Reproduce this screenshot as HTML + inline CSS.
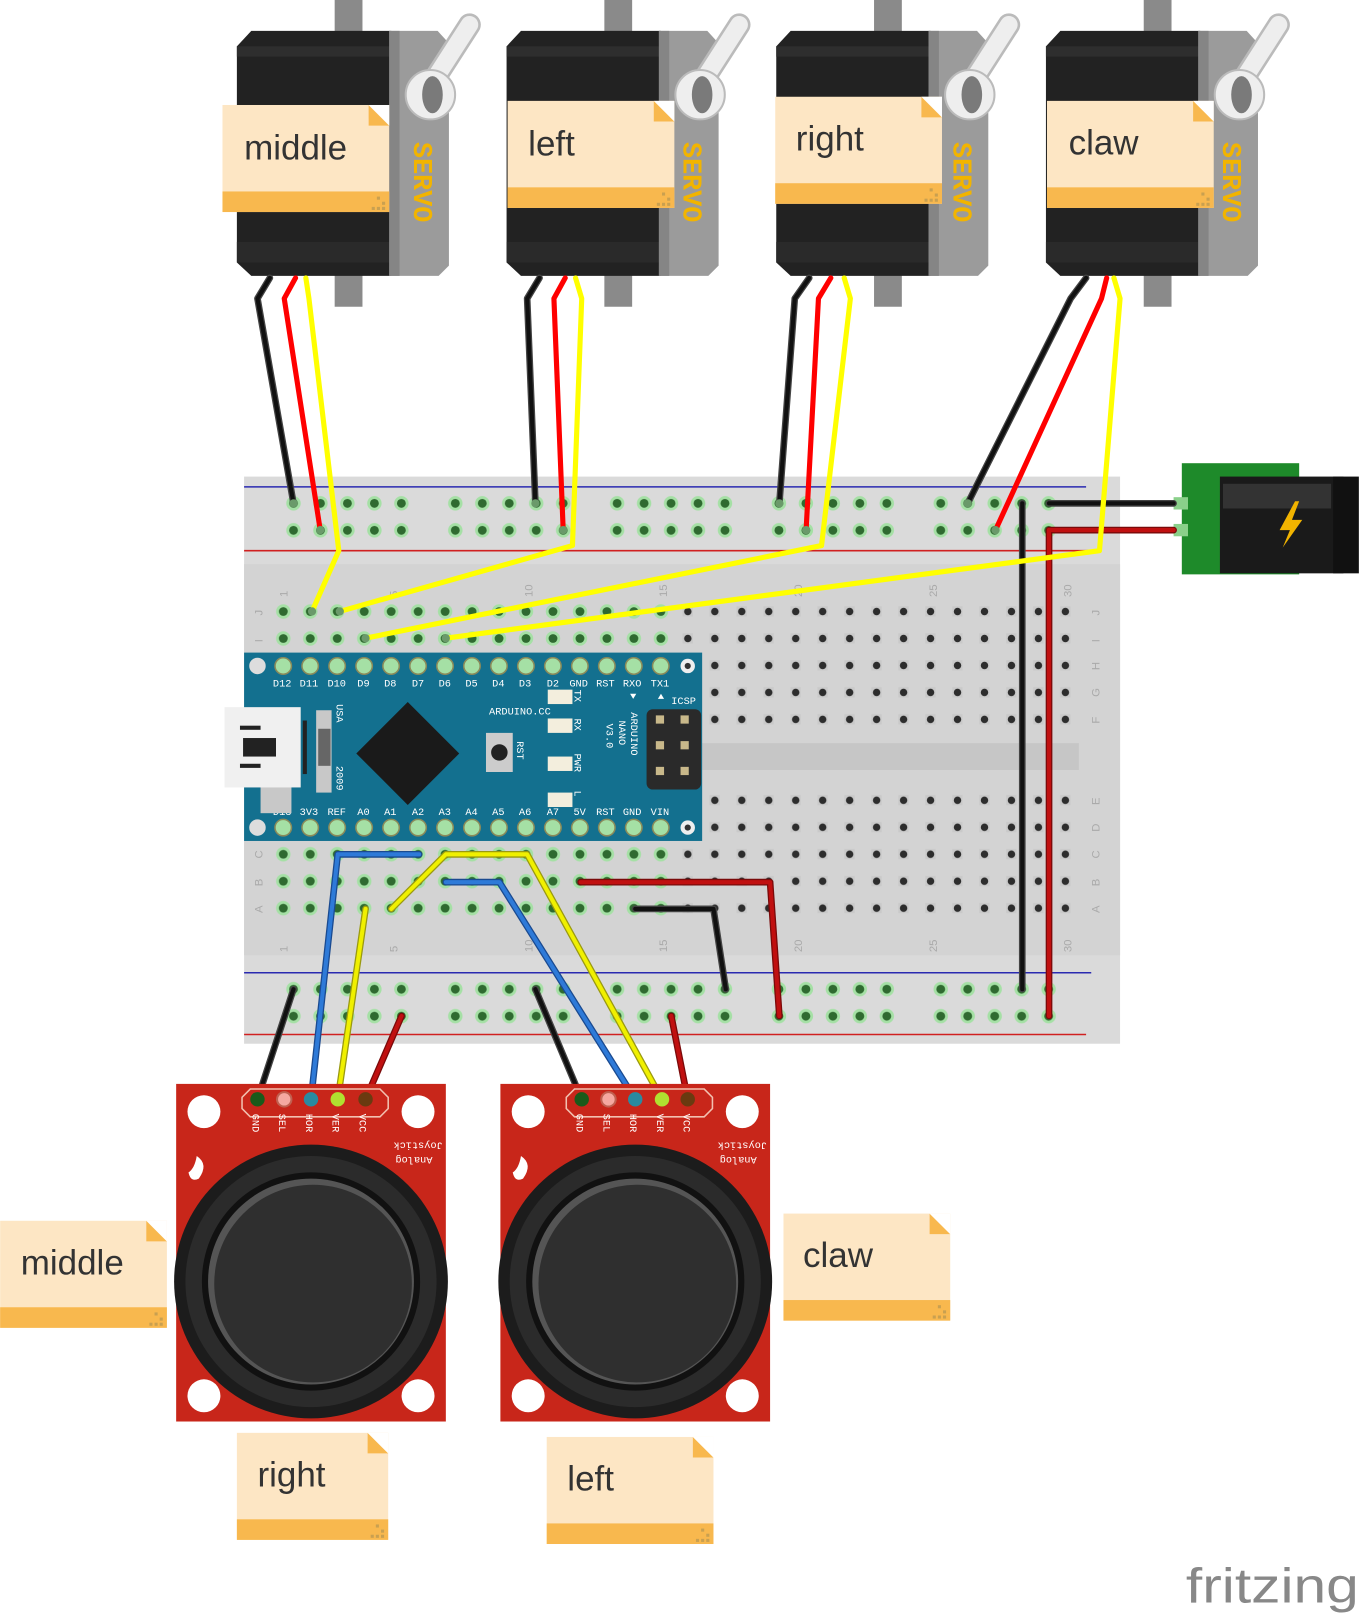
<!DOCTYPE html>
<html><head><meta charset="utf-8"><style>
html,body{margin:0;padding:0;background:#fff;}
svg{display:block;}
.lbl{font-family:"Liberation Sans",sans-serif;font-size:34px;fill:#333;}
.pin{font-family:"Liberation Mono",monospace;font-size:10px;fill:#fff;}
.sv{font-family:"Liberation Mono",monospace;font-size:26px;font-weight:bold;fill:#f2b400;}
.bbl{font-family:"Liberation Sans",sans-serif;font-size:11px;fill:#aaa;}
</style></head><body>
<svg width="1359" height="1614" viewBox="0 0 1320 1568" xmlns="http://www.w3.org/2000/svg">
<defs>
<pattern id="hole" x="262" y="581" width="26.2" height="26.2" patternUnits="userSpaceOnUse">
<rect x="8" y="8" width="10" height="10" fill="#c9c9c9"/><circle cx="13.1" cy="13.1" r="3.6" fill="#2d2d2d"/></pattern>
<pattern id="ghole" x="262" y="581" width="26.2" height="26.2" patternUnits="userSpaceOnUse">
<circle cx="13.1" cy="13.1" r="7" fill="#a5e0a5"/><circle cx="13.1" cy="13.1" r="4.3" fill="#2f6a30"/></pattern>
<pattern id="rail" x="272" y="476" width="157.2" height="26.2" patternUnits="userSpaceOnUse">
<g fill="#a5e0a5"><circle cx="13" cy="13" r="7"/><circle cx="39.2" cy="13" r="7"/><circle cx="65.4" cy="13" r="7"/><circle cx="91.6" cy="13" r="7"/><circle cx="117.8" cy="13" r="7"/></g>
<g fill="#2f6a30"><circle cx="13" cy="13" r="4.3"/><circle cx="39.2" cy="13" r="4.3"/><circle cx="65.4" cy="13" r="4.3"/><circle cx="91.6" cy="13" r="4.3"/><circle cx="117.8" cy="13" r="4.3"/></g></pattern>
<pattern id="rail2" x="272" y="948" width="157.2" height="26.2" patternUnits="userSpaceOnUse">
<g fill="#a5e0a5"><circle cx="13" cy="13" r="7"/><circle cx="39.2" cy="13" r="7"/><circle cx="65.4" cy="13" r="7"/><circle cx="91.6" cy="13" r="7"/><circle cx="117.8" cy="13" r="7"/></g>
<g fill="#2f6a30"><circle cx="13" cy="13" r="4.3"/><circle cx="39.2" cy="13" r="4.3"/><circle cx="65.4" cy="13" r="4.3"/><circle cx="91.6" cy="13" r="4.3"/><circle cx="117.8" cy="13" r="4.3"/></g></pattern>
<g id="servo">
<rect x="95" y="0" width="27" height="40" fill="#8a8a8a"/>
<rect x="95" y="250" width="27" height="48" fill="#8a8a8a"/>
<path d="M0,45 L14,30 L150,30 L150,268 L14,268 L0,255 Z" fill="#222"/>
<rect x="0" y="45" width="150" height="10" fill="#2e2e2e"/>
<rect x="0" y="235" width="150" height="20" fill="#2a2a2a"/>
<path d="M148,30 L195,30 L206,42 L206,258 L196,268 L148,268 Z" fill="#9b9b9b"/>
<rect x="148" y="30" width="10" height="238" fill="#858585"/>
<line x1="190" y1="80" x2="226" y2="24" stroke="#bbb" stroke-width="22" stroke-linecap="round"/>
<line x1="190" y1="80" x2="226" y2="24" stroke="#eee" stroke-width="17" stroke-linecap="round"/>
<circle cx="188" cy="92" r="24" fill="#eee" stroke="#bbb" stroke-width="2"/>
<ellipse cx="190" cy="92" rx="10" ry="18" fill="#7a7a7a"/>
</g>
<g id="note">
<rect x="0" y="0" width="162" height="104" fill="#fde6c4"/>
<rect x="0" y="84" width="162" height="20" fill="#f8b84e"/>
<path d="M142,0 L162,20 L142,20 Z" fill="#f8b84e"/>
<path d="M142,0 L162,0 L162,20 Z" fill="#fff"/>
<g fill="#c9a050"><rect x="150" y="89" width="3" height="3"/><rect x="155" y="94" width="3" height="3"/><rect x="150" y="99" width="3" height="3"/><rect x="145" y="99" width="3" height="3"/><rect x="155" y="99" width="3" height="3"/></g>
</g>
<g id="note2">
<rect x="0" y="0" width="147" height="104" fill="#fde6c4"/>
<rect x="0" y="84" width="147" height="20" fill="#f8b84e"/>
<path d="M127,0 L147,20 L127,20 Z" fill="#f8b84e"/>
<path d="M127,0 L147,0 L147,20 Z" fill="#fff"/>
<g fill="#c9a050"><rect x="135" y="89" width="3" height="3"/><rect x="140" y="94" width="3" height="3"/><rect x="135" y="99" width="3" height="3"/><rect x="130" y="99" width="3" height="3"/><rect x="140" y="99" width="3" height="3"/></g>
</g>
<g id="joy">
<rect x="0" y="0" width="262" height="328" fill="#c8261a"/>
<circle cx="27" cy="27" r="16" fill="#fff"/><circle cx="235" cy="27" r="16" fill="#fff"/>
<circle cx="27" cy="303" r="16" fill="#fff"/><circle cx="235" cy="303" r="16" fill="#fff"/>
<path d="M72,5 L198,5 L206,13 L206,24 L198,32 L72,32 L64,24 L64,13 Z" fill="none" stroke="#f2c0b0" stroke-width="1.5"/>
<circle cx="131" cy="192" r="133" fill="#1c1c1c"/>
<circle cx="131" cy="192" r="122" fill="#2b2b2b"/>
<circle cx="131" cy="192" r="106" fill="#111"/>
<circle cx="131" cy="192" r="100" fill="#555"/>
<circle cx="133" cy="194" r="96" fill="#2f2f2f"/>
<path d="M20,70 q12,8 2,22 q-8,4 -10,-6 q6,-4 8,-16z" fill="#fff"/>
</g>
</defs>

<use href="#servo" x="230"/><use href="#servo" x="492"/><use href="#servo" x="754"/><use href="#servo" x="1016"/>
<text class="sv" transform="translate(402,138) rotate(90)">SERVO</text>
<text class="sv" transform="translate(664,138) rotate(90)">SERVO</text>
<text class="sv" transform="translate(926,138) rotate(90)">SERVO</text>
<text class="sv" transform="translate(1188,138) rotate(90)">SERVO</text>

<rect x="237" y="463" width="851" height="551" fill="#dadada"/>
<rect x="237" y="548" width="851" height="380" fill="#d3d3d3"/>
<line x1="237" y1="473" x2="1055" y2="473" stroke="#2a2ab0" stroke-width="1.5"/>
<line x1="237" y1="535" x2="1070" y2="535" stroke="#d02020" stroke-width="1.5"/>
<line x1="237" y1="945" x2="1060" y2="945" stroke="#2a2ab0" stroke-width="1.5"/>
<line x1="237" y1="1005" x2="1055" y2="1005" stroke="#d02020" stroke-width="1.5"/>
<rect x="272" y="476" width="760" height="52" fill="url(#rail)"/>
<rect x="272" y="948" width="760" height="52" fill="url(#rail2)"/>
<rect x="262" y="581" width="786" height="131" fill="url(#hole)"/>
<rect x="262" y="765" width="786" height="131" fill="url(#hole)"/>
<rect x="680" y="722" width="368" height="26" fill="#c6c6c6"/>
<rect x="262" y="581" width="393" height="52" fill="url(#ghole)"/>
<rect x="262" y="817" width="393" height="79" fill="url(#ghole)"/>
<g class="bbl">
<text transform="translate(279,580) rotate(-90)">1</text><text transform="translate(386,580) rotate(-90)">5</text>
<text transform="translate(517,580) rotate(-90)">10</text><text transform="translate(648,580) rotate(-90)">15</text>
<text transform="translate(779,580) rotate(-90)">20</text><text transform="translate(910,580) rotate(-90)">25</text>
<text transform="translate(1041,580) rotate(-90)">30</text>
<text transform="translate(279,925) rotate(-90)">1</text><text transform="translate(386,925) rotate(-90)">5</text>
<text transform="translate(517,925) rotate(-90)">10</text><text transform="translate(648,925) rotate(-90)">15</text>
<text transform="translate(779,925) rotate(-90)">20</text><text transform="translate(910,925) rotate(-90)">25</text>
<text transform="translate(1041,925) rotate(-90)">30</text>
<text transform="translate(255,598) rotate(-90)">J</text><text transform="translate(255,624) rotate(-90)">I</text>
<text transform="translate(255,834) rotate(-90)">C</text><text transform="translate(255,861) rotate(-90)">B</text><text transform="translate(255,887) rotate(-90)">A</text>
<text transform="translate(1068,598) rotate(-90)">J</text><text transform="translate(1068,624) rotate(-90)">I</text>
<text transform="translate(1068,651) rotate(-90)">H</text><text transform="translate(1068,677) rotate(-90)">G</text><text transform="translate(1068,703) rotate(-90)">F</text>
<text transform="translate(1068,782) rotate(-90)">E</text><text transform="translate(1068,808) rotate(-90)">D</text>
<text transform="translate(1068,834) rotate(-90)">C</text><text transform="translate(1068,861) rotate(-90)">B</text><text transform="translate(1068,887) rotate(-90)">A</text>
</g>

<rect x="237" y="634" width="445" height="183" fill="#13708f"/>
<g fill="#a5e0a5" stroke="#8a8a5a" stroke-width="1.5">
<circle cx="275" cy="647" r="8"/><circle cx="301.2" cy="647" r="8"/><circle cx="327.4" cy="647" r="8"/><circle cx="353.6" cy="647" r="8"/><circle cx="379.8" cy="647" r="8"/><circle cx="406" cy="647" r="8"/><circle cx="432.2" cy="647" r="8"/><circle cx="458.4" cy="647" r="8"/><circle cx="484.6" cy="647" r="8"/><circle cx="510.8" cy="647" r="8"/><circle cx="537" cy="647" r="8"/><circle cx="563.2" cy="647" r="8"/><circle cx="589.4" cy="647" r="8"/><circle cx="615.6" cy="647" r="8"/><circle cx="641.8" cy="647" r="8"/>
<circle cx="275" cy="804" r="8"/><circle cx="301.2" cy="804" r="8"/><circle cx="327.4" cy="804" r="8"/><circle cx="353.6" cy="804" r="8"/><circle cx="379.8" cy="804" r="8"/><circle cx="406" cy="804" r="8"/><circle cx="432.2" cy="804" r="8"/><circle cx="458.4" cy="804" r="8"/><circle cx="484.6" cy="804" r="8"/><circle cx="510.8" cy="804" r="8"/><circle cx="537" cy="804" r="8"/><circle cx="563.2" cy="804" r="8"/><circle cx="589.4" cy="804" r="8"/><circle cx="615.6" cy="804" r="8"/><circle cx="641.8" cy="804" r="8"/>
</g>
<circle cx="250" cy="647" r="8" fill="#ddd"/><circle cx="250" cy="804" r="8" fill="#ddd"/>
<circle cx="668" cy="647" r="7" fill="#eee"/><circle cx="668" cy="647" r="3" fill="#333"/>
<circle cx="668" cy="804" r="7" fill="#eee"/><circle cx="668" cy="804" r="3" fill="#333"/>
<g class="pin">
<text x="265" y="667">D12</text><text x="291" y="667">D11</text><text x="318" y="667">D10</text><text x="347" y="667">D9</text><text x="373" y="667">D8</text><text x="400" y="667">D7</text><text x="426" y="667">D6</text><text x="452" y="667">D5</text><text x="478" y="667">D4</text><text x="504" y="667">D3</text><text x="531" y="667">D2</text><text x="553" y="667">GND</text><text x="579" y="667">RST</text><text x="605" y="667">RXO</text><text x="632" y="667">TX1</text>
<text x="265" y="792">D13</text><text x="291" y="792">3V3</text><text x="318" y="792">REF</text><text x="347" y="792">A0</text><text x="373" y="792">A1</text><text x="400" y="792">A2</text><text x="426" y="792">A3</text><text x="452" y="792">A4</text><text x="478" y="792">A5</text><text x="504" y="792">A6</text><text x="531" y="792">A7</text><text x="557" y="792">5V</text><text x="579" y="792">RST</text><text x="605" y="792">GND</text><text x="632" y="792">VIN</text>
<text x="475" y="694">ARDUINO.CC</text><text x="652" y="684">ICSP</text>
<text transform="translate(327,684) rotate(90)">USA</text><text transform="translate(327,744) rotate(90)">2009</text>
<text transform="translate(502,720) rotate(90)">RST</text>
<text transform="translate(558,670) rotate(90)">TX</text><text transform="translate(558,698) rotate(90)">RX</text><text transform="translate(558,732) rotate(90)">PWR</text><text transform="translate(558,768) rotate(90)">L</text>
<text transform="translate(613,692) rotate(90)">ARDUINO</text><text transform="translate(601,700) rotate(90)">NANO</text><text transform="translate(589,703) rotate(90)">V3.0</text>
</g>
<rect x="253" y="690" width="30" height="100" fill="#c8c8c8"/><rect x="307" y="690" width="15" height="80" fill="#c8c8c8"/>
<rect x="218" y="687" width="74" height="78" fill="#f0f0f0"/>
<g fill="#222"><rect x="236" y="717" width="32" height="18"/><rect x="233" y="705" width="20" height="4"/><rect x="233" y="742" width="20" height="4"/><rect x="294" y="700" width="4" height="52"/></g>
<rect x="309" y="708" width="12" height="36" fill="#666"/>
<path d="M396,682 L446,732 L396,782 L346,732 Z" fill="#1a1a1a"/>
<rect x="472" y="712" width="26" height="38" fill="#ccc"/><circle cx="485" cy="731" r="8" fill="#222"/>
<g fill="#f3eedd"><rect x="532" y="670" width="24" height="14"/><rect x="532" y="698" width="24" height="14"/><rect x="532" y="735" width="24" height="14"/><rect x="532" y="770" width="24" height="14"/></g>
<rect x="628" y="689" width="53" height="78" rx="6" fill="#2a2a2a"/>
<g fill="#c8b88a"><rect x="637" y="695" width="8" height="8"/><rect x="661" y="695" width="8" height="8"/><rect x="637" y="720" width="8" height="8"/><rect x="661" y="720" width="8" height="8"/><rect x="637" y="745" width="8" height="8"/><rect x="661" y="745" width="8" height="8"/></g>
<path d="M612,674 l6,0 l-3,5z M639,679 l6,0 l-3,-5z" fill="#fff"/>

<rect x="1148" y="450" width="114" height="108" fill="#1e8a2a"/>
<rect x="1140" y="483" width="14" height="12" fill="#8ad08a"/><rect x="1140" y="509" width="14" height="12" fill="#8ad08a"/>
<rect x="1185" y="463" width="120" height="94" fill="#1a1a1a"/>
<rect x="1295" y="463" width="25" height="94" fill="#111"/>
<rect x="1188" y="470" width="105" height="24" fill="#333"/>
<path d="M1258,487 L1243,515 L1253,515 L1246,532 L1265,505 L1255,505 L1262,487 Z" fill="#f2b400"/>

<g fill="none" stroke-linejoin="round" stroke-linecap="round">
<g stroke-width="6.5" stroke="#444">
<polyline points="262,270 250,290 285,489"/><polyline points="524,270 512,290 520,489"/><polyline points="786,270 772,290 757,489"/><polyline points="1055,270 1040,290 940,489"/>
<polyline points="993,489 993,961"/><polyline points="1019,489 1140,489"/>
<polyline points="285,961 250,1068"/><polyline points="520,961 565,1068"/><polyline points="617,883 693,883 705,961"/>
</g>
<g stroke-width="4" stroke="#111">
<polyline points="262,270 250,290 285,489"/><polyline points="524,270 512,290 520,489"/><polyline points="786,270 772,290 757,489"/><polyline points="1055,270 1040,290 940,489"/>
<polyline points="993,489 993,961"/><polyline points="1019,489 1140,489"/>
<polyline points="285,961 250,1068"/><polyline points="520,961 565,1068"/><polyline points="617,883 693,883 705,961"/>
</g>
<g stroke-width="5" stroke="#f00">
<polyline points="287,270 276,290 311,515"/><polyline points="549,270 538,290 547,515"/><polyline points="807,270 795,290 783,515"/><polyline points="1075,270 1070,290 967,515"/>
</g>
<g stroke-width="6.5" stroke="#7a0a0a">
<polyline points="1019,515 1019,987"/><polyline points="1019,515 1140,515"/>
<polyline points="564,857 748,857 757,987"/><polyline points="390,987 355,1068"/><polyline points="652,987 668,1068"/>
</g>
<g stroke-width="4" stroke="#c01010">
<polyline points="1019,515 1019,987"/><polyline points="1019,515 1140,515"/>
<polyline points="564,857 748,857 757,987"/><polyline points="390,987 355,1068"/><polyline points="652,987 668,1068"/>
</g>
<g stroke-width="5" stroke="#ff0">
<polyline points="297,270 300,290 329,535 303,594"/><polyline points="559,270 565,290 556,530 330,594"/>
<polyline points="820,270 826,290 798,530 355,620"/><polyline points="1082,270 1088,290 1068,535 433,620"/>
</g>
<g stroke-width="6.5" stroke="#9a9a10">
<polyline points="355,883 328,1068"/><polyline points="380,883 433,830 512,830 643,1068"/>
</g>
<g stroke-width="4" stroke="#f0f000">
<polyline points="355,883 328,1068"/><polyline points="380,883 433,830 512,830 643,1068"/>
</g>
<g stroke-width="6.5" stroke="#1a4a90">
<polyline points="407,830 328,830 302,1068"/><polyline points="433,857 485,857 617,1068"/>
</g>
<g stroke-width="4" stroke="#2e7ad8">
<polyline points="407,830 328,830 302,1068"/><polyline points="433,857 485,857 617,1068"/>
</g>
</g>
<g fill="#6a9a6a">
<circle cx="285" cy="489" r="4"/><circle cx="311" cy="515" r="4"/><circle cx="520" cy="489" r="4"/><circle cx="547" cy="515" r="4"/><circle cx="757" cy="489" r="4"/><circle cx="783" cy="515" r="4"/><circle cx="940" cy="489" r="4"/><circle cx="967" cy="515" r="4"/>
<circle cx="303" cy="594" r="4"/><circle cx="330" cy="594" r="4"/><circle cx="355" cy="620" r="4"/><circle cx="433" cy="620" r="4"/>
</g>

<use href="#joy" x="171" y="1053"/><use href="#joy" x="486" y="1053"/>
<g>
<circle cx="250" cy="1068" r="7" fill="#1a5a1a"/><circle cx="276" cy="1068" r="7" fill="#f5a8a0" stroke="#c06050" stroke-width="2"/><circle cx="302" cy="1068" r="7" fill="#2a8aa0"/><circle cx="328" cy="1068" r="7" fill="#b0e030"/><circle cx="355" cy="1068" r="7" fill="#6a3a10"/>
<circle cx="565" cy="1068" r="7" fill="#1a5a1a"/><circle cx="591" cy="1068" r="7" fill="#f5a8a0" stroke="#c06050" stroke-width="2"/><circle cx="617" cy="1068" r="7" fill="#2a8aa0"/><circle cx="643" cy="1068" r="7" fill="#b0e030"/><circle cx="668" cy="1068" r="7" fill="#6a3a10"/>
</g>
<g class="pin" font-size="11">
<text transform="translate(245,1082) rotate(90)">GND</text><text transform="translate(271,1082) rotate(90)">SEL</text><text transform="translate(297,1082) rotate(90)">HOR</text><text transform="translate(323,1082) rotate(90)">VER</text><text transform="translate(349,1082) rotate(90)">VCC</text>
<text transform="translate(430,1110) rotate(180)">Joystick</text><text transform="translate(420,1124) rotate(180)">Analog</text>
<text transform="translate(560,1082) rotate(90)">GND</text><text transform="translate(586,1082) rotate(90)">SEL</text><text transform="translate(612,1082) rotate(90)">HOR</text><text transform="translate(638,1082) rotate(90)">VER</text><text transform="translate(664,1082) rotate(90)">VCC</text>
<text transform="translate(745,1110) rotate(180)">Joystick</text><text transform="translate(735,1124) rotate(180)">Analog</text>
</g>

<use href="#note" x="216" y="102"/><text class="lbl" x="237" y="155">middle</text>
<use href="#note" x="493" y="98"/><text class="lbl" x="513" y="151">left</text>
<use href="#note" x="753" y="94"/><text class="lbl" x="773" y="146">right</text>
<use href="#note" x="1017" y="98"/><text class="lbl" x="1038" y="150">claw</text>
<use href="#note" x="0" y="1186"/><text class="lbl" x="20" y="1238">middle</text>
<use href="#note" x="761" y="1179"/><text class="lbl" x="780" y="1231">claw</text>
<use href="#note2" x="230" y="1392"/><text class="lbl" x="250" y="1444">right</text>
<use href="#note" x="531" y="1396"/><text class="lbl" x="551" y="1448">left</text>

<text x="1152" y="1557" font-family="Liberation Sans, sans-serif" font-size="48" fill="#888" textLength="168" lengthAdjust="spacingAndGlyphs">fritzing</text>
</svg>
</body></html>
